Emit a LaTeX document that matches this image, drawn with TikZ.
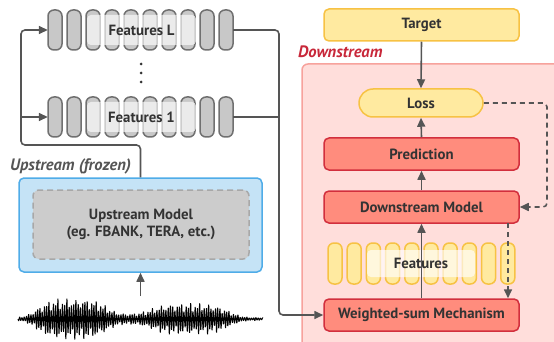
\documentclass[tikz,border=0pt]{standalone}
\usepackage{fontspec}
\setmainfont{PT Sans}
\usetikzlibrary{arrows.meta}
\definecolor{ink}{HTML}{333333}
\definecolor{wire}{HTML}{555555}
\definecolor{barfill}{HTML}{C8C8C8}
\definecolor{barline}{HTML}{707070}
\definecolor{upfill}{HTML}{C5E3F6}
\definecolor{upline}{HTML}{4FACE8}
\definecolor{modfill}{HTML}{CCCCCC}
\definecolor{modline}{HTML}{A8A8A8}
\definecolor{yfill}{HTML}{FFEAA0}
\definecolor{yline}{HTML}{F7C244}
\definecolor{dsfill}{HTML}{FFDEDB}
\definecolor{dsline}{HTML}{F7A29C}
\definecolor{rfill}{HTML}{FF8C7D}
\definecolor{rline}{HTML}{D22F3D}
\definecolor{dstext}{HTML}{C8283A}
\tikzset{
  txt/.style={font=\bfseries\fontsize{14.8}{16}\selectfont, text=ink},
  graybar/.style={draw=barline, fill=barfill, line width=1.5pt, rounded corners=6pt},
  yellowbar/.style={draw=yline, fill=yfill, line width=1.5pt, rounded corners=6pt},
  tag/.style={fill=white, fill opacity=0.65, text opacity=1, rounded corners=4pt, inner sep=0pt, txt},
  redbox/.style={draw=rline, fill=rfill, line width=1.5pt, rounded corners=5pt, minimum width=195pt, minimum height=32pt, txt},
  yelbox/.style={draw=yline, fill=yfill, line width=1.5pt, rounded corners=5pt, minimum width=195pt, minimum height=32pt, txt},
  conn/.style={draw=wire, line width=1.6pt, rounded corners=4pt, -{Triangle[length=9pt,width=8pt]}},
  plainconn/.style={draw=wire, line width=1.6pt, rounded corners=4pt},
  dconn/.style={conn, dash pattern=on 5pt off 4pt},
  grouplabel/.style={font=\bfseries\itshape\fontsize{16.5}{18}\selectfont, anchor=west, inner sep=0pt},
}
\begin{document}
\begin{tikzpicture}[x=1pt,y=-1pt,
  declare function={
    gauss2(\t,\c,\w)=exp(-min(((\t-\c)/\w)^2,20));
    gauss4(\t,\c,\w)=exp(-min((((\t-\c)/\w)^2)^2,20));
    env(\t)=1.6+4*gauss2(\t,130,25)+20*gauss4(\t,72,38)+15*gauss4(\t,190,42);
  }]
\useasboundingbox (0,0) rectangle (554,342);

% downstream region
\begin{scope}
\clip (0,0) rectangle (554,342);
\draw[draw=dsline, fill=dsfill, line width=1.5pt, rounded corners=6pt] (302,64) rectangle (580,370);
\end{scope}
\node[grouplabel, text=dstext] (dslabel) at (298,52) {Downstream};

% feature stacks from the upstream model
\foreach \yy/\nm/\lab in {10/featL/Features L, 97/featA/Features 1}{
  \foreach \i in {0,...,9}{
    \draw[graybar] ({48+19*\i},\yy) rectangle ({62+19*\i},{\yy+40});
  }
  \node[minimum width=185pt, minimum height=40pt, inner sep=0pt] (\nm) at (140.5,{\yy+20}) {};
  \node[tag, minimum width=109pt, minimum height=30pt] (\nm t) at (141.5,{\yy+20}) {\lab};
}
\node[circle, fill=ink, inner sep=0pt, minimum size=3pt] (dot1) at (141,64) {};
\node[circle, fill=ink, inner sep=0pt, minimum size=3pt] (dot2) at (141,73) {};
\node[circle, fill=ink, inner sep=0pt, minimum size=3pt] (dot3) at (141,82) {};

% upstream model
\node[grouplabel, text=wire] (uplabel) at (10,166) {Upstream (frozen)};
\node[draw=upline, fill=upfill, line width=1.5pt, rounded corners=5pt, minimum width=243pt, minimum height=94pt] (up) at (140.5,225) {};
\node[draw=modline, fill=modfill, line width=1.5pt, dash pattern=on 6pt off 4pt, rounded corners=6pt, minimum width=216pt, minimum height=69pt, txt, align=center] (upm) at (141,224.5) {Upstream Model\\[1pt](eg. FBANK, TERA, etc.)};

% speech waveform (fast carrier under a two-syllable envelope)
\draw[black, line width=0.9pt, line join=bevel] plot[domain=18:263, samples=1400]
  (\x, {319 + env(\x)*(0.7+0.3*sin(\x*61)*sin(\x*23))*sin(mod(\x,2.25)*160)});
\coordinate (wv) at (140.5,296);

% downstream blocks
\node[yelbox] (target) at (421.5,25) {Target};
\node[draw=yline, fill=yfill, line width=1.5pt, rounded corners=14pt, minimum width=124pt, minimum height=28pt, txt] (loss) at (421,103) {Loss};
\node[redbox] (pred) at (421.5,154) {Prediction};
\node[redbox] (dm) at (421.5,207) {Downstream Model};
\foreach \i in {0,...,9}{
  \draw[yellowbar] ({328+19.2*\i},243) rectangle ({342+19.2*\i},284);
}
\node[tag, minimum width=108pt, minimum height=27pt] (feats) at (421,263.5) {Features};
\node[redbox] (ws) at (421.5,315) {Weighted-sum Mechanism};

% connectors
\coordinate (jn) at (21,145);
\coordinate (br) at (21,117);
\coordinate (rt) at (279,30);
\coordinate (rb) at (279,117);
\coordinate (dd) at (508,223);
\coordinate (lr) at (547,103);
\draw[conn] (up.north) |- (jn) |- (featL.west);
\draw[conn] (br) -- (featA.west);
\draw[conn] (wv) -- (up.south);
\draw[conn] (featL.east) -- (rt) |- (ws.west);
\draw[plainconn] (featA.east) -- (rb);
\draw[conn] (target.south) -- (loss.north);
\draw[conn] (pred.north) -- (loss.south);
\draw[conn] (dm.north) -- (pred.south);
\draw[conn] (ws.north) -- (dm.south);
\draw[dconn] (loss.east) -- (lr) |- (dm.east);
\draw[dconn] (dd) -- (dd |- ws.north);
\end{tikzpicture}
\end{document}
